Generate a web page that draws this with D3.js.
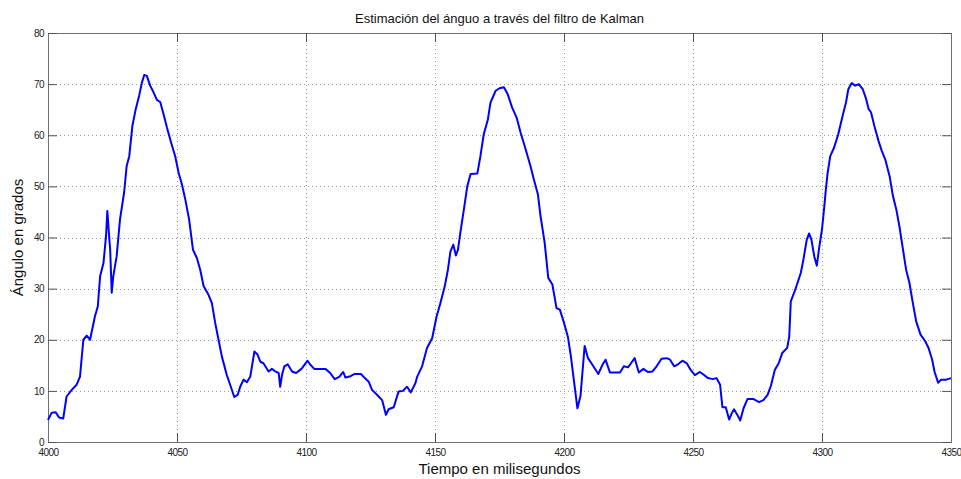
<!DOCTYPE html>
<html>
<head>
<meta charset="utf-8">
<script src="https://cdn.jsdelivr.net/npm/d3@7"></script>
<style>
    html, body { margin: 0; padding: 0; background: #fff; }
    #kalman-chart { width: 961px; height: 479px; }
    text { font-family: "Liberation Sans", Arial, sans-serif; }
</style>
</head>
<body>
<div id="kalman-chart"></div>
<script>
const chartTitle = "Estimación del ánguo a través del filtro de Kalman";
const xLabel = "Tiempo en milisegundos";
const yLabel = "Ángulo en grados";

const xTicks = [4000, 4050, 4100, 4150, 4200, 4250, 4300, 4350];
const yTicks = [0, 10, 20, 30, 40, 50, 60, 70, 80];

// ms
const timeMs = [
    4000, 4001.4, 4003, 4004.3, 4005.9, 4007.2, 4009.2, 4011.1, 4012.4, 4013.7,
    4015, 4016.3, 4018.2, 4019.3, 4020.2, 4021.5, 4022.5, 4023, 4023.5, 4024.1,
    4024.7, 4025.3, 4026.6, 4027.9, 4029.5, 4030.5, 4031.5, 4032.7, 4034, 4035.3,
    4036.4, 4037.3, 4038.3, 4039.6, 4040.9, 4042.2, 4043.5, 4044.8, 4046.1, 4047.7,
    4049.3, 4050.6, 4051.9, 4053.2, 4054.7, 4056.2, 4057.7, 4059, 4060.3, 4062.2,
    4063.5, 4064.8, 4066.1, 4067.4, 4069.3, 4070.6, 4072.2, 4073.5, 4074.5, 4075.8,
    4077.1, 4078.4, 4080, 4081.2, 4082.3, 4083.5, 4085.5, 4086.8, 4088.1, 4089.4,
    4090, 4090.7, 4091.6, 4092.9, 4094.6, 4096.2, 4098.4, 4100.6, 4101.7, 4103.2,
    4105.6, 4107.5, 4109.4, 4111.1, 4113, 4114.4, 4115.3, 4116.9, 4118.7, 4121.3,
    4122.4, 4124.3, 4125.6, 4127.6, 4129.5, 4131, 4132, 4134, 4135.9, 4137.6,
    4138.5, 4139.2, 4140.6, 4142.4, 4143.1, 4145, 4146.9, 4148.9, 4150.6, 4152.1,
    4153.8, 4155, 4156, 4157.1, 4158.1, 4158.9, 4159.9, 4161.2, 4162.5, 4163.8,
    4166.4, 4167.6, 4168.9, 4170.5, 4171.5, 4173.5, 4175, 4176.7, 4178.2, 4179.9,
    4181.6, 4183.2, 4185.1, 4187, 4188.3, 4189.9, 4190.9, 4192.5, 4193.9, 4195.5,
    4197.1, 4198.4, 4200, 4201.5, 4202.6, 4203.8, 4205.2, 4206.4, 4208, 4209.3,
    4211, 4213.3, 4214.9, 4216.1, 4217.8, 4220, 4221.7, 4223.2, 4224.8, 4226.1,
    4227.4, 4229, 4230.8, 4232.5, 4234.3, 4235.9, 4237.8, 4239.8, 4241.1, 4242.7,
    4244.2, 4245.9, 4247.6, 4249.1, 4250.7, 4252.7, 4254.3, 4255.8, 4257.6, 4259.1,
    4260.5, 4261.4, 4262.7, 4264, 4265, 4265.9, 4267.2, 4268.3, 4269.6, 4271.1,
    4273.5, 4275.6, 4277.3, 4278.9, 4280.2, 4281.7, 4283.2, 4284.6, 4286.5, 4287.3,
    4287.9, 4289.2, 4290.5, 4291.8, 4292.8, 4294.1, 4295, 4295.9, 4297, 4298,
    4298.9, 4300, 4300.9, 4301.5, 4302.2, 4303.2, 4304.7, 4306.3, 4308, 4309.3,
    4310.2, 4311.5, 4312.9, 4314.2, 4315.8, 4317.1, 4318.1, 4319, 4320.3, 4321.9,
    4323.2, 4324.5, 4326.2, 4327.5, 4328.8, 4330.1, 4331.4, 4332.6, 4333.9, 4335.2,
    4336.5, 4338.2, 4340, 4341.3, 4342.7, 4343.6, 4345, 4346.2, 4348.2, 4350
];

// degrees
const angleDeg = [
    4.3, 5.7, 5.8, 4.8, 4.6, 8.9, 10.2, 11.2, 12.8, 20,
    20.8, 20, 24.6, 26.5, 32.4, 35, 40.3, 45.2, 41.6, 37.6,
    29.2, 32.4, 36.3, 43.5, 48.8, 54, 55.9, 61.8, 65.1, 67.7,
    70.3, 71.8, 71.6, 69.7, 68.4, 66.9, 66.5, 64.1, 61.5, 58.6,
    55.9, 52.7, 50.4, 47.5, 43.5, 37.6, 36, 33.7, 30.5, 28.8,
    27.2, 23.3, 20, 16.7, 13.1, 11.2, 8.8, 9.2, 10.8, 12.2,
    11.7, 12.8, 17.7, 17.1, 15.7, 15.4, 13.8, 14.3, 13.8, 13.5,
    10.8, 13.1, 14.8, 15.2, 13.8, 13.5, 14.4, 15.9, 15.1, 14.3,
    14.3, 14.3, 13.5, 12.3, 12.8, 13.7, 12.6, 12.8, 13.3, 13.3,
    12.7, 11.8, 10.2, 9.2, 8.2, 5.3, 6.4, 6.8, 9.9, 10,
    10.5, 10.8, 9.7, 11.5, 12.8, 14.8, 18.4, 20.3, 24.5, 27.2,
    30.5, 33.7, 37.3, 38.6, 36.5, 37.6, 41.2, 45.5, 50, 52.4,
    52.5, 55.9, 60.2, 63.1, 66.4, 68.7, 69.2, 69.4, 68, 65.4,
    63.5, 60.5, 57.3, 54, 51.4, 48.4, 44.2, 39, 32.1, 30.8,
    26.2, 25.9, 23.3, 20.6, 17, 12.2, 6.6, 9, 18.8, 16.4,
    15.1, 13.3, 15.1, 16.1, 13.6, 13.6, 13.6, 14.8, 14.6, 15.5,
    16.4, 13.6, 14.3, 13.7, 13.8, 14.8, 16.3, 16.4, 16.1, 14.8,
    15.2, 15.9, 15.4, 14.1, 13.1, 13.7, 13.1, 12.5, 12.3, 12.5,
    11.2, 6.8, 6.8, 4.4, 5.6, 6.4, 5.3, 4.2, 6.6, 8.4,
    8.4, 7.8, 8.2, 9.2, 11, 14.1, 15.4, 17.4, 18.4, 20.6,
    27.5, 29.2, 31.1, 33.1, 35.7, 39.6, 40.8, 39.6, 36.3, 34.5,
    38, 41.6, 46.1, 49.4, 52.7, 55.9, 57.6, 60.2, 63.8, 66.4,
    69, 70.2, 69.7, 70, 69, 67.1, 65.1, 64.5, 61.8, 58.9,
    56.9, 55.3, 52, 48.1, 45.5, 41.9, 37.6, 33.7, 31.1, 27.2,
    23.6, 21, 19.7, 18.4, 16.1, 13.8, 11.6, 12.2, 12.2, 12.5
];

class KalmanAngleChart {

    constructor(parentElement, times, values) {
        this.parentElement = parentElement;
        this.data = times.map((t, i) => ({time: t, value: values[i]}));

        this.initVis();
    }

    initVis() {
        let vis = this;

        vis.margin = {top: 33, right: 10, bottom: 37, left: 48};

        vis.width = 961 - vis.margin.left - vis.margin.right;
        vis.height = 479 - vis.margin.top - vis.margin.bottom;

        vis.root = d3.select("#" + vis.parentElement).append("svg")
            .attr("width", 961)
            .attr("height", 479);

        vis.svg = vis.root.append("g")
            .attr("transform", `translate(${vis.margin.left}, ${vis.margin.top})`);

        vis.x = d3.scaleLinear().domain([4000, 4350]).range([0, vis.width]);
        vis.y = d3.scaleLinear().domain([0, 80]).range([vis.height, 0]);

        // dotted grid
        vis.svg.append("g")
            .selectAll("line.vgrid")
            .data(xTicks.slice(1, -1))
            .join("line")
            .attr("class", "vgrid")
            .attr("x1", d => Math.round(vis.x(d)) + 0.5)
            .attr("x2", d => Math.round(vis.x(d)) + 0.5)
            .attr("y1", 0)
            .attr("y2", vis.height)
            .attr("stroke", "#9a9a9a")
            .attr("stroke-dasharray", "1,3");

        vis.svg.append("g")
            .selectAll("line.hgrid")
            .data(yTicks.slice(1, -1))
            .join("line")
            .attr("class", "hgrid")
            .attr("x1", 0)
            .attr("x2", vis.width)
            .attr("y1", d => Math.round(vis.y(d)) + 0.5)
            .attr("y2", d => Math.round(vis.y(d)) + 0.5)
            .attr("stroke", "#9a9a9a")
            .attr("stroke-dasharray", "1,3");

        // axes, matlab style ticks pointing inward
        let xAxisBottom = d3.axisBottom(vis.x).tickValues(xTicks).tickSize(-9).tickPadding(7).tickFormat(d3.format("d"));
        let xAxisTop = d3.axisTop(vis.x).tickValues(xTicks).tickSize(-9).tickFormat("");
        let yAxisLeft = d3.axisLeft(vis.y).tickValues(yTicks).tickSize(-9).tickPadding(4).tickFormat(d3.format("d"));
        let yAxisRight = d3.axisRight(vis.y).tickValues(yTicks).tickSize(-9).tickFormat("");

        vis.svg.append("g").attr("class", "axis").attr("transform", `translate(0, ${vis.height})`).call(xAxisBottom);
        vis.svg.append("g").attr("class", "axis").call(xAxisTop);
        vis.svg.append("g").attr("class", "axis").call(yAxisLeft);
        vis.svg.append("g").attr("class", "axis").attr("transform", `translate(${vis.width}, 0)`).call(yAxisRight);

        vis.svg.selectAll(".axis path").attr("stroke", "#707070");
        vis.svg.selectAll(".axis line").attr("stroke", "#505050");
        vis.svg.selectAll(".axis text")
            .style("font-size", "10px")
            .style("letter-spacing", "-0.6px")
            .attr("fill", "#222");

        vis.root.append("text")
            .attr("x", vis.margin.left + vis.width / 2)
            .attr("y", 23)
            .attr("text-anchor", "middle")
            .style("font-size", "13px")
            .attr("fill", "#111")
            .text(chartTitle);

        vis.root.append("text")
            .attr("x", vis.margin.left + vis.width / 2)
            .attr("y", 474)
            .attr("text-anchor", "middle")
            .style("font-size", "15px")
            .attr("fill", "#111")
            .text(xLabel);

        vis.root.append("text")
            .attr("transform", `translate(23, ${vis.margin.top + vis.height / 2}) rotate(-90)`)
            .attr("text-anchor", "middle")
            .style("font-size", "15px")
            .attr("fill", "#111")
            .text(yLabel);

        vis.line = d3.line()
            .x(d => vis.x(d.time))
            .y(d => vis.y(d.value));

        vis.updateVis();
    }

    updateVis() {
        let vis = this;

        vis.svg.selectAll("path.angle-line")
            .data([vis.data])
            .join("path")
            .attr("class", "angle-line")
            .attr("d", vis.line)
            .attr("fill", "none")
            .attr("stroke", "#0000ff")
            .attr("stroke-width", 2)
            .attr("stroke-linejoin", "round");
    }
}

new KalmanAngleChart("kalman-chart", timeMs, angleDeg);
</script>
</body>
</html>
